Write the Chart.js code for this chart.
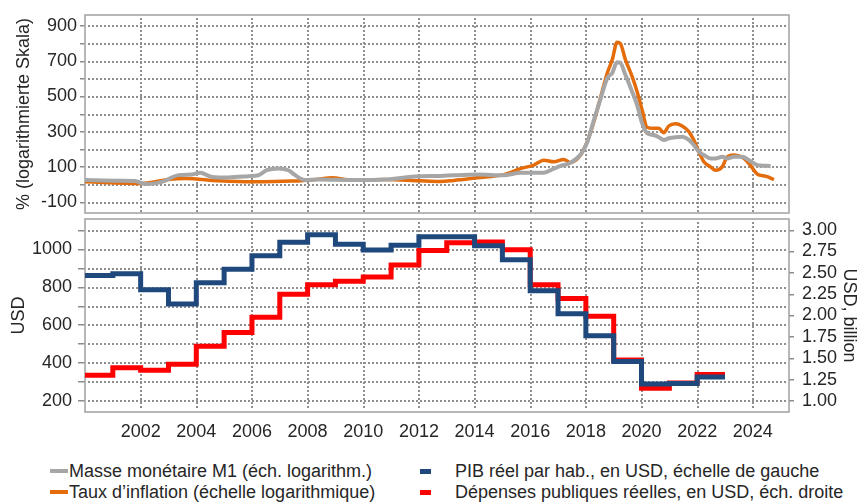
<!DOCTYPE html>
<html lang="fr">
<head>
    <meta charset="UTF-8">
    <title>Masse monétaire, inflation, PIB et dépenses publiques</title>
    <script src="https://cdn.jsdelivr.net/npm/chart.js"></script>
    <style>
        body {
            margin: 0;
            background: #fff;
            font-family: 'Liberation Sans', Arial, sans-serif;
        }

        .wrap {
            position: relative;
            width: 858px;
            height: 504px;
            overflow: hidden;
        }

        #topChart {
            position: absolute;
            left: 0;
            top: 0;
        }

        #bottomChart {
            position: absolute;
            left: 0;
            top: 214px;
        }

        .leg {
            position: absolute;
            height: 22px;
            line-height: 22px;
            font-size: 18px;
            color: #262626;
            white-space: nowrap;
        }

        .leg .mark {
            position: absolute;
            top: 50%;
        }

        .col1 { left: 50px; padding-left: 19px; }
        .col1 .mark { left: 0; width: 18px; height: 4px; margin-top: -2px; }
        .col2 { left: 420px; padding-left: 35px; }
        .col2 .mark { left: 0; width: 11px; height: 5px; margin-top: -2px; }
        .row1 { top: 460px; }
        .row2 { top: 481px; }
    </style>
</head>
<body>
    <div class="wrap">
        <canvas id="topChart" width="858" height="216"></canvas>
        <canvas id="bottomChart" width="858" height="226"></canvas>
        <div id="legend"></div>
    </div>

    <script>
        // --- données ---
        const m1Label = 'Masse monétaire M1 (éch. logarithm.)';
        const m1Years = [2000.0, 2001.2, 2001.8, 2002.2, 2002.76, 2003.36, 2003.84, 2004.14, 2004.56, 2005.16,
            2005.88, 2006.24, 2006.53, 2006.95, 2007.31, 2007.55, 2007.91, 2008.39, 2009.6, 2010.8,
            2012.0, 2012.77, 2013.25, 2014.09, 2015.05, 2015.65, 2016.49, 2016.85, 2017.09, 2017.45,
            2017.81, 2018.05, 2018.29, 2018.52, 2018.77, 2018.95, 2019.12, 2019.24, 2019.42, 2019.66,
            2019.84, 2020.02, 2020.2, 2020.44, 2020.62, 2020.8, 2020.98, 2021.22, 2021.46, 2021.7,
            2021.88, 2022.06, 2022.24, 2022.48, 2022.66, 2022.9, 2023.08, 2023.32, 2023.62, 2023.86,
            2024.16, 2024.46, 2024.64];
        const m1Values = [25, 21, 19, 2, 15, 53, 57, 66, 43, 40,
            47, 53, 81, 91, 81, 53, 25, 28, 25, 28,
            47, 48, 52, 56, 52, 67, 67, 90, 105, 123,
            170, 240, 367, 481, 604, 633, 694, 690, 623, 528,
            452, 348, 291, 281, 268, 253, 262, 268, 271, 253,
            224, 186, 167, 148, 148, 157, 148, 157, 157, 138,
            110, 106, 104];

        const inflLabel = 'Taux d’inflation (échelle logarithmique)';
        const inflYears = [2000.0, 2002.04, 2003.0, 2003.6, 2004.8, 2006.0, 2007.43, 2008.4, 2008.87, 2009.6,
            2010.8, 2012.0, 2012.77, 2013.25, 2014.09, 2015.05, 2015.65, 2016.13, 2016.49, 2016.85,
            2017.2, 2017.45, 2017.81, 2018.05, 2018.29, 2018.52, 2018.77, 2018.95, 2019.12, 2019.24,
            2019.42, 2019.66, 2019.84, 2020.02, 2020.2, 2020.44, 2020.62, 2020.8, 2020.98, 2021.22,
            2021.46, 2021.7, 2021.88, 2022.06, 2022.24, 2022.48, 2022.66, 2022.9, 2023.08, 2023.32,
            2023.62, 2023.86, 2024.16, 2024.46, 2024.76];
        const inflValues = [15, 6, 28, 34, 21, 15, 19, 30, 38, 25,
            28, 21, 17, 23, 38, 56, 90, 110, 138, 129,
            142, 125, 167, 243, 357, 490, 633, 709, 808, 800,
            709, 614, 528, 424, 325, 319, 319, 294, 332, 344,
            332, 300, 252, 186, 129, 100, 81, 100, 157, 167,
            154, 119, 59, 47, 28];

        // valeurs annuelles (la dernière année sert de fin de palier)
        const annualYears = [2000, 2001, 2002, 2003, 2004, 2005, 2006, 2007, 2008, 2009, 2010, 2011,
            2012, 2013, 2014, 2015, 2016, 2017, 2018, 2019, 2020, 2021, 2022, 2023];
        const gdpLabel = 'PIB réel par hab., en USD, échelle de gauche';
        const gdpValues = [860, 870, 785, 710, 822, 893, 965, 1035, 1075, 1025, 995, 1020,
            1065, 1065, 1017, 944, 780, 659, 543, 408, 290, 292, 326, 326];
        const spendLabel = 'Dépenses publiques réelles, en USD, éch. droite';
        const spendValues = [1.30, 1.39, 1.36, 1.43, 1.64, 1.80, 1.98, 2.25, 2.36, 2.40, 2.45, 2.59,
            2.76, 2.85, 2.86, 2.77, 2.36, 2.20, 1.99, 1.48, 1.15, 1.21, 1.31, 1.31];

        // --- styles ---
        const grey = '#a6a6a6';
        const orange = '#e46c0a';
        const blue = '#1f497d';
        const red = '#ff0000';
        const gridColor = '#8f8f8f';
        const tickColor = '#8c8c8c';

        const xMin = 2000, xMax = 2025.3;
        const usdMin = 142, usdMax = 1158;
        // l'axe de droite: 1.00 en face de 200, 3.00 en face de 1100
        const toRight = v => 1 + (v - 200) * 2 / 900;

        Chart.defaults.font.family = "'Liberation Sans', Arial, sans-serif";
        Chart.defaults.font.size = 18;
        Chart.defaults.color = '#262626';

        const toPoints = (xs, ys) => xs.map((x, i) => ({ x, y: ys[i] }));

        // pas de marge automatique pour les étiquettes qui débordent
        const noPad = s => {
            s.paddingTop = 0;
            s.paddingBottom = 0;
            s.paddingLeft = 0;
            s.paddingRight = 0;
        };

        // grille en pointillés, petits traits de graduation, cadre gris
        const frame = {
            id: 'frame',
            beforeDatasetsDraw(chart) {
                const { ctx, chartArea: a, scales } = chart;
                ctx.save();
                Object.values(scales).forEach(s => {
                    const g = s.options.grid;
                    s.ticks.forEach(t => {
                        const p = Math.floor(s.getPixelForValue(t.value));
                        ctx.fillStyle = gridColor;
                        if (s.isHorizontal()) {
                            if (p <= a.left + 1 || p >= a.right - 1) return;
                            for (let y = a.top + 3; y < a.bottom - 2; y += 4) ctx.fillRect(p, Math.floor(y), 2, 2);
                            return;
                        }
                        if (g.drawOnChartArea) {
                            for (let x = a.left + 3; x < a.right - 2; x += 4) ctx.fillRect(Math.floor(x), p, 2, 2);
                        }
                        const edge = s.options.position === 'right' ? a.right : a.left;
                        const len = g.tickLength;
                        ctx.fillStyle = tickColor;
                        ctx.fillRect(s.options.position === 'right' ? edge : edge - len, p, len, 1.5);
                    });
                });
                ctx.strokeStyle = '#a0a0a0';
                ctx.lineWidth = 1.5;
                ctx.strokeRect(a.left, a.top, a.right - a.left, a.bottom - a.top);
                ctx.restore();
            }
        };

        const hidden = 'rgba(0,0,0,0)';

        const topChart = new Chart(document.getElementById('topChart'), {
            type: 'line',
            data: {
                datasets: [
                    { label: m1Label, data: toPoints(m1Years, m1Values), borderColor: grey, backgroundColor: grey, borderWidth: 4 },
                    { label: inflLabel, data: toPoints(inflYears, inflValues), borderColor: orange, backgroundColor: orange, borderWidth: 3.5 }
                ]
            },
            options: {
                responsive: false,
                animation: false,
                layout: { padding: { top: 15, right: 69, bottom: 0, left: 0 } },
                elements: {
                    point: { radius: 0 },
                    line: { cubicInterpolationMode: 'monotone', borderJoinStyle: 'round' }
                },
                plugins: { legend: { display: false }, tooltip: { enabled: false } },
                scales: {
                    x: {
                        type: 'linear',
                        min: xMin,
                        max: xMax,
                        ticks: { display: false, stepSize: 2, includeBounds: false },
                        grid: { color: hidden, drawTicks: false },
                        border: { display: false },
                        afterFit: s => { noPad(s); s.height = 3; }
                    },
                    y: {
                        min: -162,
                        max: 962,
                        ticks: {
                            stepSize: 100,
                            includeBounds: false,
                            autoSkip: false,
                            padding: 3,
                            callback: v => ((v + 100) % 200 === 0 ? String(v) : '')
                        },
                        grid: { color: hidden, tickColor: hidden, tickLength: 5 },
                        border: { display: false },
                        title: { display: true, text: '% (logarithmierte Skala)', padding: { top: 13, bottom: 0 } },
                        afterFit: s => { noPad(s); s.width = 85; }
                    }
                }
            },
            plugins: [frame]
        });

        const bottomChart = new Chart(document.getElementById('bottomChart'), {
            type: 'line',
            data: {
                datasets: [
                    { label: gdpLabel, data: toPoints(annualYears, gdpValues), borderColor: blue, backgroundColor: blue, borderWidth: 5, stepped: 'before', yAxisID: 'y' },
                    { label: spendLabel, data: toPoints(annualYears, spendValues), borderColor: red, backgroundColor: red, borderWidth: 5, stepped: 'before', yAxisID: 'y1' }
                ]
            },
            options: {
                responsive: false,
                animation: false,
                layout: { padding: { top: 5, right: 0, bottom: 0, left: 0 } },
                elements: { point: { radius: 0 } },
                plugins: { legend: { display: false }, tooltip: { enabled: false } },
                scales: {
                    x: {
                        type: 'linear',
                        min: xMin,
                        max: xMax,
                        ticks: {
                            stepSize: 2,
                            includeBounds: false,
                            autoSkip: false,
                            maxRotation: 0,
                            padding: 9,
                            callback: v => (v === 2000 ? '' : String(v))
                        },
                        grid: { color: hidden, drawTicks: false },
                        border: { display: false },
                        afterFit: s => { noPad(s); s.height = 28; }
                    },
                    y: {
                        position: 'left',
                        min: usdMin,
                        max: usdMax,
                        ticks: {
                            stepSize: 100,
                            includeBounds: false,
                            autoSkip: false,
                            padding: 6,
                            callback: v => (v % 200 === 0 ? String(v) : '')
                        },
                        grid: { color: hidden, tickColor: hidden, tickLength: 7 },
                        border: { display: false },
                        title: { display: true, text: 'USD', padding: { top: 8, bottom: 0 } },
                        afterFit: s => { noPad(s); s.width = 85; }
                    },
                    y1: {
                        position: 'right',
                        min: toRight(usdMin),
                        max: toRight(usdMax),
                        ticks: {
                            stepSize: 0.25,
                            includeBounds: false,
                            autoSkip: false,
                            padding: 8,
                            callback: v => v.toFixed(2)
                        },
                        grid: { drawOnChartArea: false, color: hidden, tickColor: hidden, tickLength: 5 },
                        border: { display: false },
                        title: { display: true, text: 'USD, billion', font: { lineHeight: 1 }, padding: { top: 0, bottom: 0 } },
                        afterFit: s => { noPad(s); s.width = 69; }
                    }
                }
            },
            plugins: [frame]
        });

        // légende sur deux colonnes, construite à partir des séries
        const legend = document.getElementById('legend');
        const cols = [topChart, bottomChart];
        cols.forEach((chart, c) => {
            chart.data.datasets.forEach((ds, r) => {
                const item = document.createElement('div');
                item.className = `leg col${c + 1} row${r + 1}`;
                const mark = document.createElement('span');
                mark.className = 'mark';
                mark.style.background = ds.borderColor;
                item.appendChild(mark);
                item.appendChild(document.createTextNode(ds.label));
                legend.appendChild(item);
            });
        });
    </script>
</body>
</html>
